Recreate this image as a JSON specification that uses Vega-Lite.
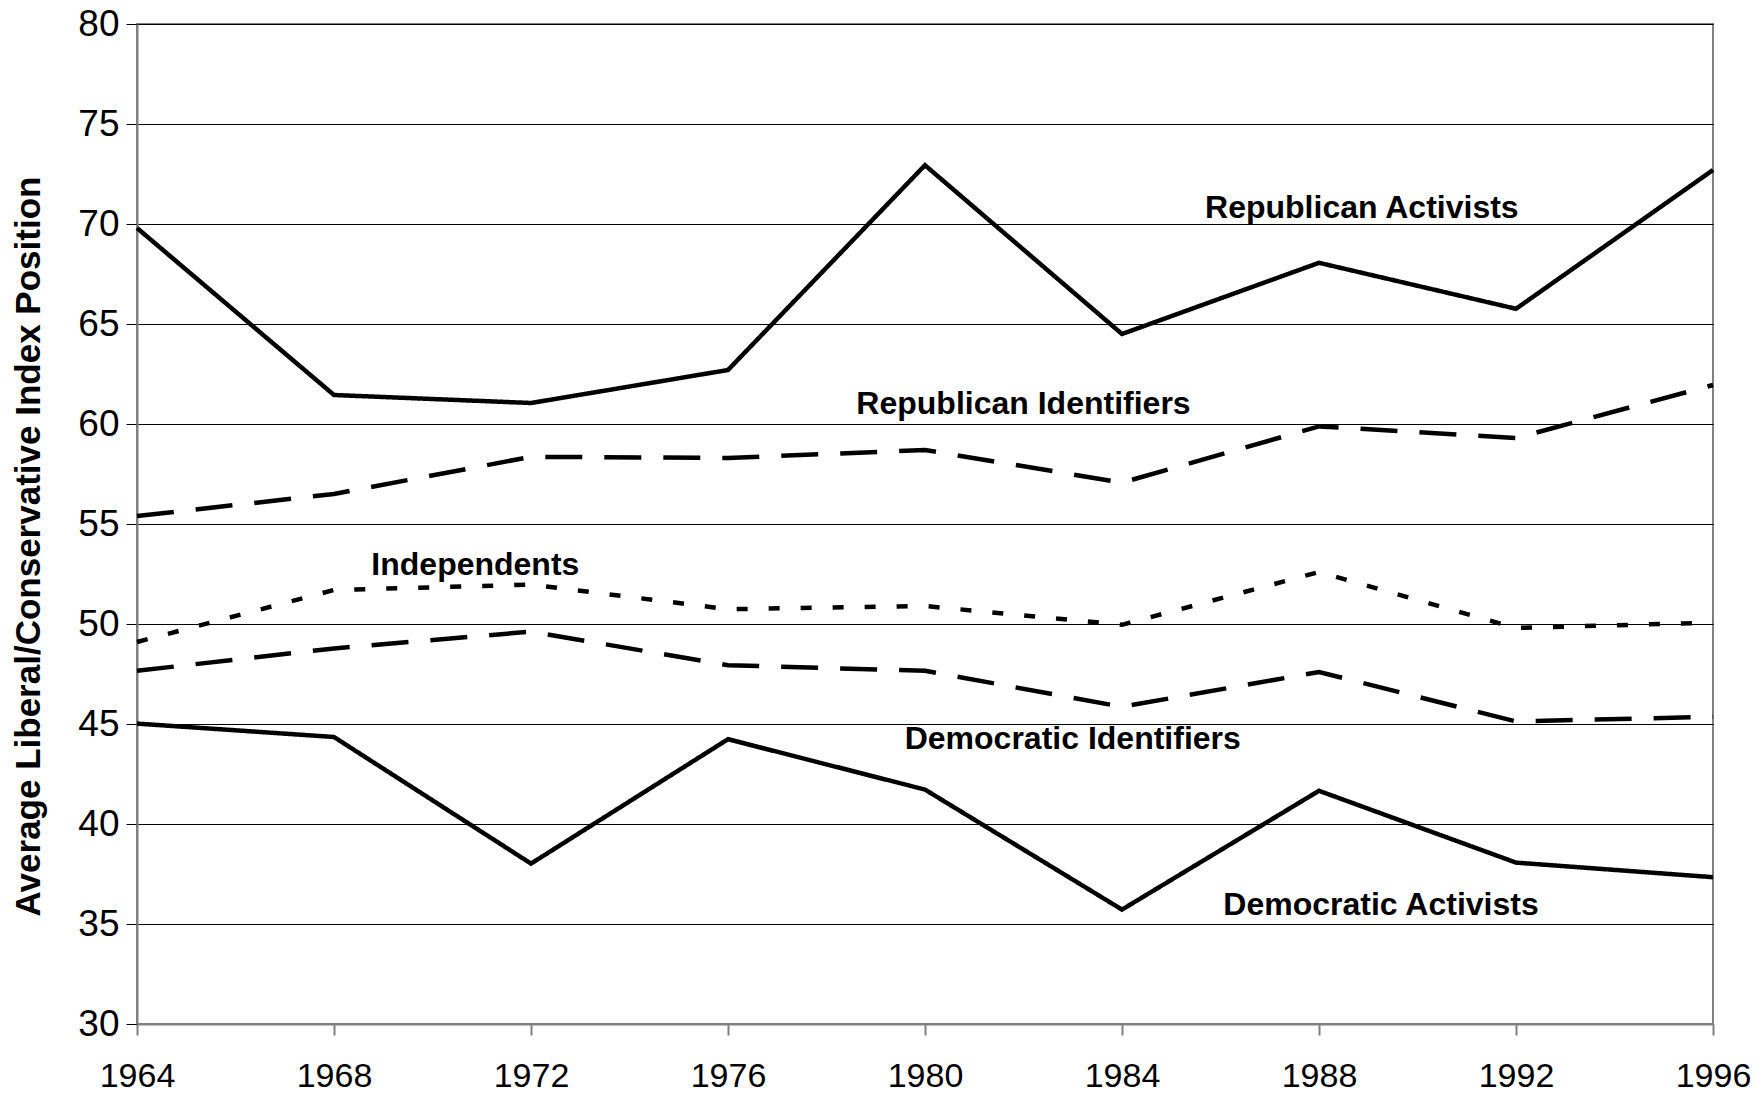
{
  "$schema": "https://vega.github.io/schema/vega-lite/v6.json",
  "width": 1576,
  "height": 1000,
  "autosize": {"type": "none"},
  "padding": {"left": 137, "top": 24, "right": 45, "bottom": 71},
  "background": "white",
  "config": {
    "font": "Liberation Sans",
    "view": {"stroke": "#808080", "strokeWidth": 2}
  },
  "datasets": {
    "series": [
      {"year": 1964, "value": 69.8, "series": "Republican Activists"},
      {"year": 1968, "value": 61.45, "series": "Republican Activists"},
      {"year": 1972, "value": 61.05, "series": "Republican Activists"},
      {"year": 1976, "value": 62.7, "series": "Republican Activists"},
      {"year": 1980, "value": 72.94, "series": "Republican Activists"},
      {"year": 1984, "value": 64.5, "series": "Republican Activists"},
      {"year": 1988, "value": 68.06, "series": "Republican Activists"},
      {"year": 1992, "value": 65.76, "series": "Republican Activists"},
      {"year": 1996, "value": 72.7, "series": "Republican Activists"},
      {"year": 1964, "value": 55.4, "series": "Republican Identifiers"},
      {"year": 1968, "value": 56.5, "series": "Republican Identifiers"},
      {"year": 1972, "value": 58.36, "series": "Republican Identifiers"},
      {"year": 1976, "value": 58.3, "series": "Republican Identifiers"},
      {"year": 1980, "value": 58.7, "series": "Republican Identifiers"},
      {"year": 1984, "value": 57.07, "series": "Republican Identifiers"},
      {"year": 1988, "value": 59.88, "series": "Republican Identifiers"},
      {"year": 1992, "value": 59.3, "series": "Republican Identifiers"},
      {"year": 1996, "value": 61.95, "series": "Republican Identifiers"},
      {"year": 1964, "value": 49.1, "series": "Independents"},
      {"year": 1968, "value": 51.7, "series": "Independents"},
      {"year": 1972, "value": 51.97, "series": "Independents"},
      {"year": 1976, "value": 50.74, "series": "Independents"},
      {"year": 1980, "value": 50.9, "series": "Independents"},
      {"year": 1984, "value": 49.96, "series": "Independents"},
      {"year": 1988, "value": 52.6, "series": "Independents"},
      {"year": 1992, "value": 49.8, "series": "Independents"},
      {"year": 1996, "value": 50.07, "series": "Independents"},
      {"year": 1964, "value": 47.66, "series": "Democratic Identifiers"},
      {"year": 1968, "value": 48.78, "series": "Democratic Identifiers"},
      {"year": 1972, "value": 49.62, "series": "Democratic Identifiers"},
      {"year": 1976, "value": 47.94, "series": "Democratic Identifiers"},
      {"year": 1980, "value": 47.66, "series": "Democratic Identifiers"},
      {"year": 1984, "value": 45.86, "series": "Democratic Identifiers"},
      {"year": 1988, "value": 47.6, "series": "Democratic Identifiers"},
      {"year": 1992, "value": 45.13, "series": "Democratic Identifiers"},
      {"year": 1996, "value": 45.36, "series": "Democratic Identifiers"},
      {"year": 1964, "value": 45.02, "series": "Democratic Activists"},
      {"year": 1968, "value": 44.35, "series": "Democratic Activists"},
      {"year": 1972, "value": 38.02, "series": "Democratic Activists"},
      {"year": 1976, "value": 44.24, "series": "Democratic Activists"},
      {"year": 1980, "value": 41.72, "series": "Democratic Activists"},
      {"year": 1984, "value": 35.72, "series": "Democratic Activists"},
      {"year": 1988, "value": 41.66, "series": "Democratic Activists"},
      {"year": 1992, "value": 38.07, "series": "Democratic Activists"},
      {"year": 1996, "value": 37.34, "series": "Democratic Activists"}
    ],
    "labels": [
      {"year": 1988.87, "value": 70.8, "label": "Republican Activists"},
      {"year": 1982.0, "value": 61.0, "label": "Republican Identifiers"},
      {"year": 1970.87, "value": 52.93, "label": "Independents"},
      {"year": 1983.0, "value": 44.24, "label": "Democratic Identifiers"},
      {"year": 1989.26, "value": 35.94, "label": "Democratic Activists"}
    ]
  },
  "layer": [
    {
      "data": {"name": "series"},
      "mark": {"type": "line", "color": "black", "strokeWidth": 4.5, "clip": false},
      "encoding": {
        "x": {
          "field": "year",
          "type": "quantitative",
          "scale": {"domain": [1964, 1996], "nice": false, "zero": false},
          "axis": {
            "title": null,
            "values": [1964, 1968, 1972, 1976, 1980, 1984, 1988, 1992, 1996],
            "format": "d",
            "grid": false,
            "domainColor": "#808080",
            "domainWidth": 2,
            "tickColor": "#808080",
            "tickWidth": 2,
            "tickSize": 11,
            "labelFontSize": 34,
            "labelColor": "black",
            "labelPadding": 24,
            "labelFlush": false,
            "labelOverlap": false
          }
        },
        "y": {
          "field": "value",
          "type": "quantitative",
          "scale": {"domain": [30, 80], "nice": false, "zero": false},
          "axis": {
            "title": "Average Liberal/Conservative Index Position",
            "titleFontSize": 35,
            "titleFontWeight": "bold",
            "titleColor": "black",
            "titleAngle": -90,
            "titleX": -109,
            "titleY": 522,
            "titleAlign": "center",
            "titleBaseline": "middle",
            "values": [30, 35, 40, 45, 50, 55, 60, 65, 70, 75, 80],
            "grid": true,
            "gridColor": "black",
            "gridWidth": 1,
            "gridOpacity": 1,
            "domainColor": "#808080",
            "domainWidth": 2,
            "tickColor": "black",
            "tickWidth": 1,
            "tickSize": 11,
            "labelFontSize": 37,
            "labelColor": "black",
            "labelPadding": 7,
            "labelFlush": false,
            "labelOverlap": false
          }
        },
        "detail": {"field": "series"},
        "strokeDash": {
          "field": "series",
          "type": "nominal",
          "scale": {
            "domain": ["Republican Activists", "Republican Identifiers", "Independents", "Democratic Identifiers", "Democratic Activists"],
            "range": [[1, 0], [37, 22], [11, 21], [37, 22], [1, 0]]
          },
          "legend": null
        }
      }
    },
    {
      "data": {"name": "labels"},
      "mark": {"type": "text", "font": "Liberation Sans", "fontWeight": "bold", "fontSize": 32, "color": "black", "align": "center", "baseline": "middle"},
      "encoding": {
        "x": {"field": "year", "type": "quantitative"},
        "y": {"field": "value", "type": "quantitative"},
        "text": {"field": "label"}
      }
    }
  ]
}
